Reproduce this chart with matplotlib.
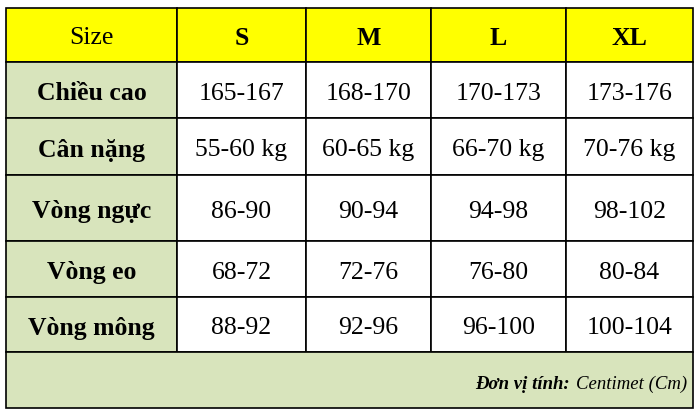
import matplotlib.pyplot as plt
from matplotlib.patches import Rectangle

sizes = ["S", "M", "L", "XL"]
measures = ["Chiều cao", "Cân nặng", "Vòng ngực", "Vòng eo", "Vòng mông"]
values = [
    ["165-167", "168-170", "170-173", "173-176"],
    ["55-60 kg", "60-65 kg", "66-70 kg", "70-76 kg"],
    ["86-90", "90-94", "94-98", "98-102"],
    ["68-72", "72-76", "76-80", "80-84"],
    ["88-92", "92-96", "96-100", "100-104"],
]
unit_label = "Đơn vị tính:"
unit_value = "Centimet (Cm)"

# layout in pixels
col_edges = [6, 177, 306, 431, 566, 693]
row_edges = [8, 62, 118, 175, 241, 297, 352, 408]
YELLOW = "#ffff00"
GREEN = "#d8e4bc"
FONT = "Liberation Serif"
FS = 18.5

fig = plt.figure(figsize=(7.0, 4.15), dpi=100)
ax = fig.add_axes([0, 0, 1, 1])
ax.set_xlim(0, 700)
ax.set_ylim(415, 0)
ax.axis("off")


def cell(x0, x1, y0, y1, fc):
    ax.add_patch(Rectangle((x0, y0), x1 - x0, y1 - y0, fc=fc, ec="black", lw=1.2))


def label(x, y, s, **kw):
    ax.text(x, y, s, ha="center", va="center_baseline", fontsize=FS,
            family=FONT, **kw)


# header row
for j in range(5):
    cell(col_edges[j], col_edges[j + 1], row_edges[0], row_edges[1], YELLOW)
yh = (row_edges[0] + row_edges[1]) / 2 + 1
label((col_edges[0] + col_edges[1]) / 2, yh, "Size")
for j, s in enumerate(sizes):
    label((col_edges[j + 1] + col_edges[j + 2]) / 2, yh, s, weight="bold")

# body rows
for i, (m, row) in enumerate(zip(measures, values)):
    y0, y1 = row_edges[i + 1], row_edges[i + 2]
    yc = (y0 + y1) / 2 + 1
    cell(col_edges[0], col_edges[1], y0, y1, GREEN)
    label((col_edges[0] + col_edges[1]) / 2, yc, m, weight="bold")
    for j, v in enumerate(row):
        cell(col_edges[j + 1], col_edges[j + 2], y0, y1, "white")
        label((col_edges[j + 1] + col_edges[j + 2]) / 2, yc, v)

# footer
cell(col_edges[0], col_edges[-1], row_edges[-2], row_edges[-1], GREEN)
yf = 382
t = ax.text(687, yf, unit_value, ha="right", va="center_baseline", fontsize=13.5,
            family=FONT, style="italic")
fig.canvas.draw()
bb = t.get_window_extent().transformed(ax.transData.inverted())
ax.text(bb.x0 - 6, yf, unit_label, ha="right", va="center_baseline", fontsize=13.5,
        family=FONT, style="italic", weight="bold")

fig.savefig("out.png", dpi=100)
